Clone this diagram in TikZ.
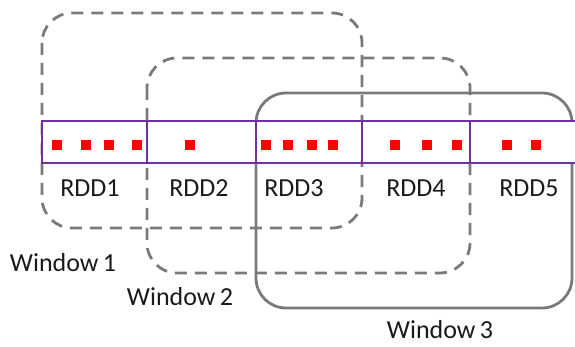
\documentclass[tikz,border=0pt]{standalone}
\usepackage{fontspec}
\setmainfont{Carlito}
\usetikzlibrary{positioning}
\definecolor{rddpurple}{HTML}{7030A0}
\definecolor{wingray}{HTML}{7A7A7A}
\definecolor{txtgray}{HTML}{1A1A1A}

\begin{document}
\begin{tikzpicture}[
        x=1pt, y=-1pt,
        window/.style={draw=wingray, line width=2.8pt, rounded corners=30pt},
        dashedwindow/.style={window, dash pattern=on 12pt off 8pt},
        cell/.style={draw=rddpurple, fill=white, line width=2.8pt, minimum height=42pt, inner sep=0pt},
        lbl/.style={text=txtgray, font=\fontsize{26}{30}\selectfont, inner sep=0pt}
    ]
    \useasboundingbox (0,0) rectangle (575,347);

    % Define the windows
    \draw[dashedwindow] (42,13) rectangle (362,228);
    \draw[dashedwindow] (147,58) rectangle (470,273);
    \draw[window] (256,93) rectangle (572,308);

    % Define the RDD cells
    \foreach \i/\xa/\xb in {1/42/147, 2/147/256, 3/256/362, 4/362/470, 5/470/577}
        \node[cell, minimum width={(\xb-\xa)*1pt}] (rdd\i) at ({(\xa+\xb)/2},142) {};

    % Records inside the cells
    \foreach \x in {57,86,109,137, 190, 266,288,312,333, 395,427,457, 507,536}
        \fill[red] (\x-5,140) rectangle (\x+5,150);

    % Labels
    \node[lbl] (l1) at (90,188) {RDD1};
    \node[lbl] (l2) at (199,188) {RDD2};
    \node[lbl] (l3) at (294,188) {RDD3};
    \node[lbl] (l4) at (416,188) {RDD4};
    \node[lbl] (l5) at (529,188) {RDD5};
    \node[lbl] (w1) at (63,263) {Window\,1};
    \node[lbl] (w2) at (180,297) {Window\,2};
    \node[lbl] (w3) at (440,330) {Window\,3};

\end{tikzpicture}
\end{document}
